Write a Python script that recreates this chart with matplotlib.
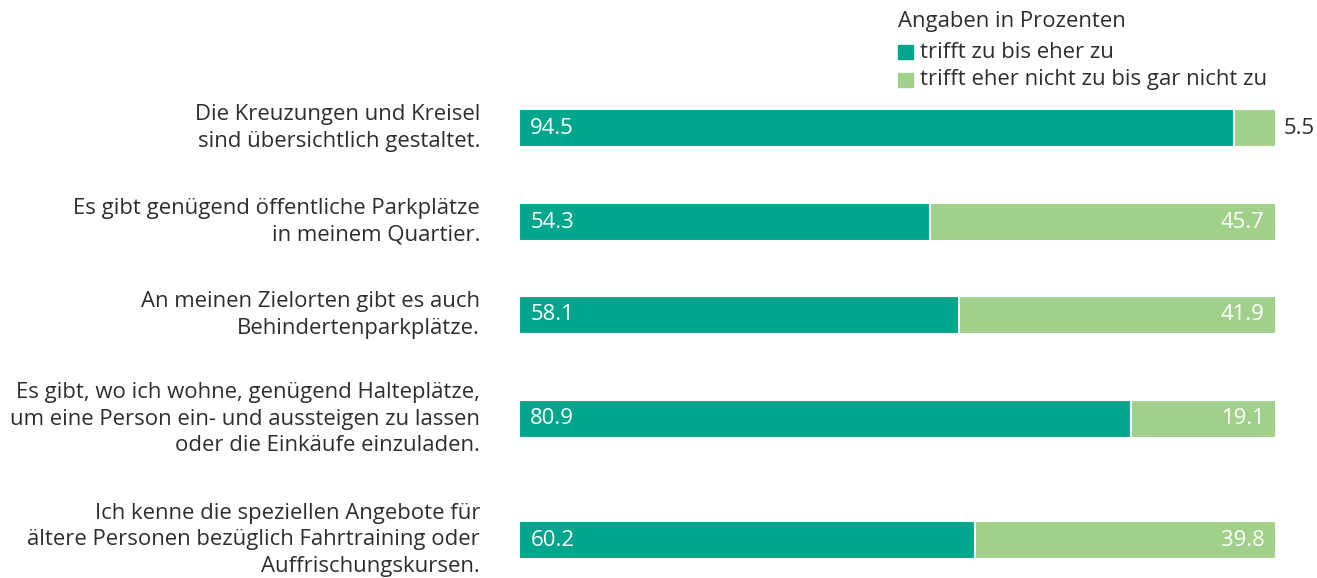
import matplotlib.pyplot as plt
from matplotlib.patches import Rectangle

plt.rcParams['font.family'] = ['Open Sans', 'DejaVu Sans']

# Daten
aussagen = [
    "Die Kreuzungen und Kreisel\nsind übersichtlich gestaltet.",
    "Es gibt genügend öffentliche Parkplätze\nin meinem Quartier.",
    "An meinen Zielorten gibt es auch\nBehindertenparkplätze.",
    "Es gibt, wo ich wohne, genügend Halteplätze,\num eine Person ein- und aussteigen zu lassen\noder die Einkäufe einzuladen.",
    "Ich kenne die speziellen Angebote für\nältere Personen bezüglich Fahrtraining oder\nAuffrischungskursen.",
]
trifft_zu = [94.5, 54.3, 58.1, 80.9, 60.2]
trifft_nicht_zu = [5.5, 45.7, 41.9, 19.1, 39.8]
legende = ["trifft zu bis eher zu", "trifft eher nicht zu bis gar nicht zu"]
titel = "Angaben in Prozenten"

# Layout (Pixel von oben)
zeilen_y = [128, 222, 315, 419, 540]
W, H = 1317, 578
farbe_dunkel = "#00a68c"
farbe_hell = "#a0d08a"
textfarbe = "#2e2e2e"
fs = 15.9

fig = plt.figure(figsize=(W / 100, H / 100), dpi=100)
ax = fig.add_axes([519 / W, 0, (1276 - 519) / W, 1])
ax.set_xlim(0, 100)
ax.set_ylim(H, 0)
ax.axis("off")

ax.barh(zeilen_y, trifft_zu, height=38, color=farbe_dunkel, edgecolor="white", linewidth=1.5)
ax.barh(zeilen_y, trifft_nicht_zu, left=trifft_zu, height=38, color=farbe_hell,
        edgecolor="white", linewidth=1.5)

for y, a, b, txt in zip(zeilen_y, trifft_zu, trifft_nicht_zu, aussagen):
    ax.text(1.5, y, f"{a:.1f}", color="white", fontsize=fs, va="center", ha="left")
    if b < 10:
        ax.text(100 + 1.0, y, f"{b:.1f}", color=textfarbe, fontsize=fs, va="center", ha="left")
    else:
        ax.text(100 - 1.5, y, f"{b:.1f}", color="white", fontsize=fs, va="center", ha="right")
    fig.text(480 / W, 1 - y / H, txt, color=textfarbe, fontsize=fs, ha="right", va="center",
             linespacing=1.37, multialignment="right")

# Legende
fig.text(898 / W, 1 - 21 / H, titel, color=textfarbe, fontsize=fs, ha="left", va="center")
for i, (lab, col) in enumerate(zip(legende, [farbe_dunkel, farbe_hell])):
    yc = 52 + i * 28
    fig.patches.append(Rectangle((898 / W, 1 - (yc + 7) / H), 15 / W, 14 / H,
                                 transform=fig.transFigure, color=col))
    fig.text(920 / W, 1 - yc / H, lab, color=textfarbe, fontsize=fs, ha="left", va="center")

fig.savefig("out.png", dpi=100)
